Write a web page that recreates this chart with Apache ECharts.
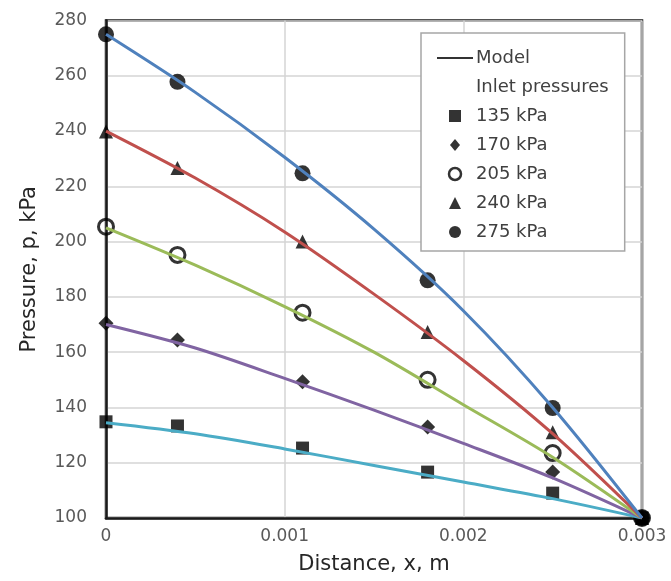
<!DOCTYPE html>
<html>
<head>
<meta charset="utf-8">
<script src="https://cdn.jsdelivr.net/npm/echarts@6/dist/echarts.min.js"></script>
<style>
html,body{margin:0;padding:0;background:#fff;}
#chart{width:671px;height:581px;}
</style>
</head>
<body>
<div id="chart"></div>
<script>
// Measured points (distance in m, pressure in kPa)
const xPoints = [0, 0.0004, 0.0011, 0.0018, 0.0025, 0.003];
const p135 = [134.8, 133.3, 125.3, 116.6, 109, 100];
const p170 = [170.5, 164.4, 149.3, 132.9, 116.6, 100];
const p205 = [205.4, 195.2, 174.3, 150, 123.5, 100];
const p240 = [239.8, 226.6, 200, 167.3, 131, 100];
const p275 = [275, 257.8, 224.7, 186, 139.8, 100];

// Model curves
const xModel = [0, 0.0005, 0.001, 0.0015, 0.002, 0.0025, 0.003];
const m135 = [134.5, 130.5, 125, 119, 113, 107, 100];
const m170 = [170, 161.5, 150.5, 139, 127, 114.5, 100];
const m205 = [205, 191.5, 176.5, 160, 141, 122, 100];
const m240 = [240, 223, 203.5, 181, 157, 130.5, 100];
const m275 = [275, 254, 230.5, 204.5, 175, 140, 100];

const seriesNames = ['135 kPa', '170 kPa', '205 kPa', '240 kPa', '275 kPa'];
const yTicks = [100, 120, 140, 160, 180, 200, 220, 240, 260, 280];
const xTicks = [0, 0.001, 0.002, 0.003];

const pointSets = [p135, p170, p205, p240, p275];
const modelSets = [m135, m170, m205, m240, m275];
const modelColors = ['#4bacc6', '#8064a2', '#9bbb59', '#c0504d', '#4f81bd'];
const symbols = ['rect', 'diamond', 'circle', 'triangle', 'circle'];
const symbolSizes = [13, 15, 15, 14, 16];
const legendIcons = [
  'path://M0,0L10,0L10,10L0,10Z',
  'path://M5,0L10,6L5,12L0,6Z',
  'path://M0,5A5,5,0,1,1,10,5A5,5,0,1,1,0,5Z',
  'path://M5,0L10,10L0,10Z',
  'path://M0,5A5,5,0,1,1,10,5A5,5,0,1,1,0,5Z'
];

const FONT = 'DejaVu Sans';

function pairs(xs, ys) { return xs.map((x, i) => [x, ys[i]]); }

const series = [];
modelSets.forEach((m, i) => {
  series.push({
    name: 'model' + i,
    type: 'line',
    data: pairs(xModel, m),
    smooth: 0.3,
    symbol: 'none',
    lineStyle: { color: modelColors[i], width: 3 },
    z: 4,
    silent: true
  });
});
pointSets.forEach((p, i) => {
  const hollow = i === 2;
  series.push({
    name: seriesNames[i],
    type: 'scatter',
    data: pairs(xPoints, p),
    symbol: symbols[i],
    symbolSize: symbolSizes[i],
    clip: false,
    itemStyle: hollow
      ? { color: 'rgba(255,255,255,0)', borderColor: '#000', borderWidth: 3 }
      : { color: '#000' },
    z: 3 + (i === 4 ? 0.5 : 0)
  });
});
// legend-only series
series.push({ name: 'Model', type: 'scatter', data: [], itemStyle: { color: '#000' } });
series.push({ name: 'Inlet pressures', type: 'scatter', data: [], itemStyle: { color: 'rgba(0,0,0,0)' } });

const legendData = [
  { name: 'Model', icon: 'path://M0,0L36,0L36,2L0,2Z', itemStyle: { color: '#000' } },
  { name: 'Inlet pressures', icon: 'rect', itemStyle: { color: 'rgba(0,0,0,0)', borderWidth: 0 } }
];
seriesNames.forEach((n, i) => {
  legendData.push(i === 2
    ? { name: n, icon: legendIcons[i], itemStyle: { color: 'rgba(255,255,255,0)', borderColor: '#000', borderWidth: 2.5 } }
    : { name: n, icon: legendIcons[i], itemStyle: { color: '#000', borderWidth: 0 } });
});

const option = {
  animation: false,
  backgroundColor: '#fff',
  textStyle: { fontFamily: FONT },
  grid: {
    left: 106, top: 20.5, right: 29, bottom: 63,
    show: true, borderColor: '#1a1a1a', borderWidth: 2.5, backgroundColor: 'transparent'
  },
  xAxis: {
    type: 'value', min: 0, max: 0.003, interval: 0.001,
    name: 'Distance, x, m', nameLocation: 'middle', nameGap: 36,
    nameTextStyle: { fontFamily: FONT, fontSize: 21, color: '#262626' },
    axisLine: { show: true, lineStyle: { color: '#1a1a1a', width: 2.5 } },
    axisTick: { show: false },
    axisLabel: { fontFamily: FONT, fontSize: 17, color: '#595959', margin: 10,
      formatter: v => { const t = xTicks.find(k => Math.abs(k - v) < 1e-9); return t === 0 ? '0' : String(t); } },
    splitLine: { show: true, lineStyle: { color: '#d4d4d4', width: 1.5 } }
  },
  yAxis: {
    type: 'value', min: 100, max: 280, interval: 20,
    name: 'Pressure, p, kPa', nameLocation: 'middle', nameGap: 66,
    nameTextStyle: { fontFamily: FONT, fontSize: 21, color: '#262626' },
    axisLine: { show: true, lineStyle: { color: '#1a1a1a', width: 2.5 } },
    axisTick: { show: false },
    axisLabel: { fontFamily: FONT, fontSize: 17, color: '#595959', margin: 19,
      formatter: v => String(yTicks.find(k => Math.abs(k - v) < 1e-6)) },
    splitLine: { show: true, lineStyle: { color: '#d4d4d4', width: 1.5 } }
  },
  legend: {
    show: true,
    orient: 'vertical',
    left: 421, top: 33,
    padding: [16, 16, 10, 16],
    backgroundColor: '#fff',
    borderColor: '#a6a6a6',
    borderWidth: 1.5,
    itemWidth: 36,
    itemHeight: 12,
    itemGap: 11,
    symbolKeepAspect: true,
    selectedMode: false,
    textStyle: { fontFamily: FONT, fontSize: 18, color: '#404040', padding: [0, 0, 0, -2] },
    data: legendData
  },
  series: series
};

const chart = echarts.init(document.getElementById('chart'), null, { renderer: 'canvas' });
chart.setOption(option);
</script>
</body>
</html>
